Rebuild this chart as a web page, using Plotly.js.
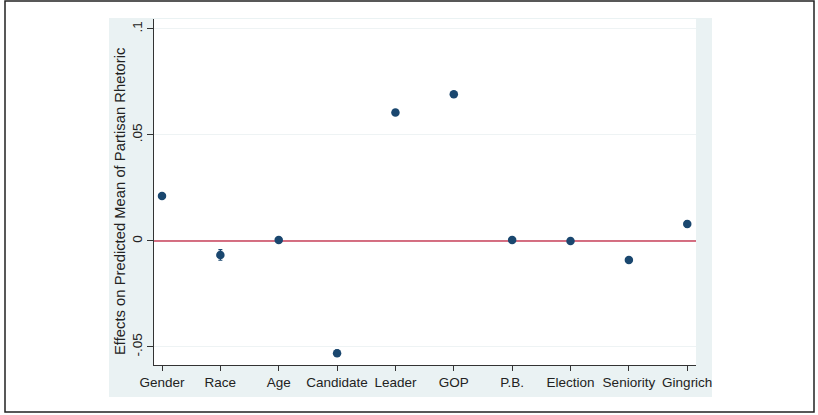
<!DOCTYPE html>
<html>
<head>
<meta charset="utf-8">
<script src="https://cdn.plot.ly/plotly-3.0.1.min.js"></script>
<style>html,body{margin:0;padding:0;background:#fff;}#chart{width:818px;height:415px;}</style>
</head>
<body>
<div id="chart"></div>
<script>
const categories = ["Gender","Race","Age","Candidate","Leader","GOP","P.B.","Election","Seniority","Gingrich"];
const effects = [0.0212, -0.0066, 0.0005, -0.0530, 0.0606, 0.0692, 0.0005, 0.0000, -0.0090, 0.0080];
const ciHalf = [0.0010, 0.0025, 0.0010, 0.0015, 0.0010, 0.0010, 0.0010, 0.0010, 0.0012, 0.0015];
const yTickVals = [-0.05, 0, 0.05, 0.1];
const yTickText = ["-.05", "0", ".05", ".1"];
const yTitle = "Effects on Predicted Mean of Partisan Rhetoric";

const xPos = categories.map((c, i) => i + 1);

const trace = {
  x: xPos,
  y: effects,
  type: "scatter",
  mode: "markers",
  marker: {color: "#1a476f", size: 8.5},
  error_y: {type: "data", array: ciHalf, visible: true, color: "#1a476f", thickness: 1.2, width: 2},
  hoverinfo: "skip",
  showlegend: false
};

const zeroLine = {
  x: [0.5, 10.5],
  y: [0, 0],
  type: "scatter",
  mode: "lines",
  line: {color: "#c8405a", width: 1.6},
  hoverinfo: "skip",
  showlegend: false
};

const L = 154, R = 696, T = 19, B = 365, W = 818, H = 415;
const px = v => (v - L) / (R - L);
const py = v => (B - v) / (B - T);

const layout = {
  width: W, height: H,
  margin: {l: L, r: W - R, t: T, b: H - B, pad: 0},
  paper_bgcolor: "#ffffff",
  plot_bgcolor: "#ffffff",
  font: {family: "Liberation Sans, Arial, sans-serif", size: 13, color: "#222"},
  shapes: [
    {type: "rect", xref: "paper", yref: "paper", x0: px(109), x1: px(712), y0: py(397), y1: py(18),
     fillcolor: "#eaf2f3", line: {width: 0}, layer: "below"},
    {type: "rect", xref: "paper", yref: "paper", x0: 0, x1: 1, y0: 0, y1: 1,
     fillcolor: "#ffffff", line: {width: 0}, layer: "below"},
    {type: "rect", xref: "paper", yref: "paper", x0: px(5), x1: px(814), y0: py(412), y1: py(1),
     fillcolor: "rgba(0,0,0,0)", line: {color: "#222", width: 1.5}}
  ],
  annotations: [
    {text: yTitle, xref: "paper", yref: "paper", x: px(120), y: py(201),
     xanchor: "center", yanchor: "middle", textangle: -90, showarrow: false,
     font: {size: 14.8, color: "#222"}}
  ],
  xaxis: {
    range: [0.863, 10.15],
    tickmode: "array",
    tickvals: xPos,
    ticktext: categories,
    ticks: "outside", ticklen: 5, tickcolor: "#333", tickwidth: 1,
    showline: true, linecolor: "#333", linewidth: 1,
    showgrid: false, zeroline: false,
    tickfont: {size: 13.5, color: "#222"},
    fixedrange: true
  },
  yaxis: {
    range: [-0.0585, 0.1047],
    tickmode: "array",
    tickvals: yTickVals,
    ticktext: yTickText,
    tickangle: -90,
    ticks: "outside", ticklen: 6, tickcolor: "#333", tickwidth: 1,
    showline: true, linecolor: "#333", linewidth: 1,
    showgrid: true, gridcolor: "#eef3f4", gridwidth: 1,
    zeroline: false,
    tickfont: {size: 13.5, color: "#222"},
    fixedrange: true
  }
};

Plotly.newPlot("chart", [zeroLine, trace], layout, {staticPlot: true, displayModeBar: false});
</script>
</body>
</html>
